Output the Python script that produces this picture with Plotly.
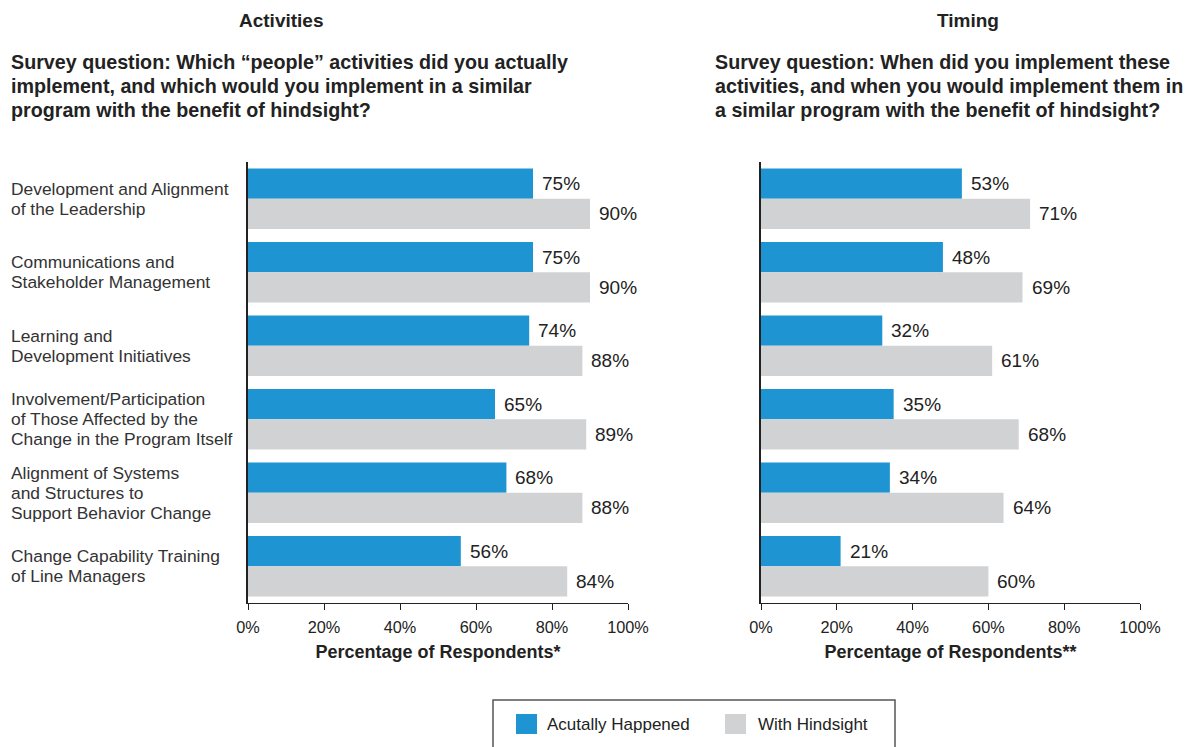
import plotly.graph_objects as go

categories = [
    "Development and Alignment<br>of the Leadership",
    "Communications and<br>Stakeholder Management",
    "Learning and<br>Development Initiatives",
    "Involvement/Participation<br>of Those Affected by the<br>Change in the Program Itself",
    "Alignment of Systems<br>and Structures to<br>Support Behavior Change",
    "Change Capability Training<br>of Line Managers",
]
activities_actual = [75, 75, 74, 65, 68, 56]
activities_hindsight = [90, 90, 88, 89, 88, 84]
timing_actual = [53, 48, 32, 35, 34, 21]
timing_hindsight = [71, 69, 61, 68, 64, 60]
series_names = ["Acutally Happened", "With Hindsight"]
tick_vals = [0, 20, 40, 60, 80, 100]
tick_text = ["0%", "20%", "40%", "60%", "80%", "100%"]
left_question = [
    "Survey question: Which “people” activities did you actually",
    "implement, and which would you implement in a similar",
    "program with the benefit of hindsight?",
]
right_question = [
    "Survey question: When did you implement these",
    "activities, and when you would implement them in",
    "a similar program with the benefit of hindsight?",
]

BLUE = "#1e94d3"
GRAY = "#d1d2d4"
TXT = "#222222"
FONT = "Liberation Sans, Arial, Helvetica, sans-serif"
W, H = 1203, 747

def px(x):
    return x / W

def py(y):
    return 1 - y / H

fig = go.Figure()

panels = [
    ("x", "y", activities_actual, activities_hindsight),
    ("x2", "y2", timing_actual, timing_hindsight),
]
for xa, ya, act, hind in panels:
    fig.add_trace(go.Bar(y=categories, x=act, orientation="h", name=series_names[0],
                         marker=dict(color=BLUE, line=dict(width=0)), xaxis=xa, yaxis=ya,
                         showlegend=False, hoverinfo="x+y"))
    fig.add_trace(go.Bar(y=categories, x=hind, orientation="h", name=series_names[1],
                         marker=dict(color=GRAY, line=dict(width=0)), xaxis=xa, yaxis=ya,
                         showlegend=False, hoverinfo="x+y"))

annotations = []
for xa, ya, act, hind in panels:
    for c, a, h in zip(categories, act, hind):
        annotations.append(dict(x=a, y=c, xref=xa, yref=ya, text=f"{a}%", showarrow=False,
                                xanchor="left", xshift=7, yshift=15,
                                font=dict(size=19, color=TXT, family=FONT)))
        annotations.append(dict(x=h, y=c, xref=xa, yref=ya, text=f"{h}%", showarrow=False,
                                xanchor="left", xshift=7, yshift=-15,
                                font=dict(size=19, color=TXT, family=FONT)))

# category labels (left aligned, one annotation per line for tight line spacing)
LINE = 20
for c in categories:
    lines = c.split("<br>")
    n = len(lines)
    for i, ln in enumerate(lines):
        annotations.append(dict(x=px(9), y=c, xref="paper", yref="y", text=ln, showarrow=False,
                                xanchor="left", yanchor="middle", align="left",
                                yshift=((n - 1) / 2 - i) * LINE,
                                font=dict(size=17.4, color="#333333", family=FONT)))

# titles
annotations += [
    dict(x=px(281), y=py(20), xref="paper", yref="paper", text="<b>Activities</b>", showarrow=False,
         xanchor="center", yanchor="middle", font=dict(size=19, color=TXT, family=FONT)),
    dict(x=px(968), y=py(20), xref="paper", yref="paper", text="<b>Timing</b>", showarrow=False,
         xanchor="center", yanchor="middle", font=dict(size=19, color=TXT, family=FONT)),
]
for x0, qlines in [(9, left_question), (713, right_question)]:
    for i, ln in enumerate(qlines):
        annotations.append(dict(x=px(x0), y=py(62 + 24 * i), xref="paper", yref="paper",
                                text=f"<b>{ln}</b>", showarrow=False, xanchor="left",
                                yanchor="middle", font=dict(size=19.7, color=TXT, family=FONT)))
annotations += [
    dict(x=px(545), y=py(724), xref="paper", yref="paper", text=series_names[0], showarrow=False,
         xanchor="left", yanchor="middle", font=dict(size=17, color=TXT, family=FONT)),
    dict(x=px(756), y=py(724), xref="paper", yref="paper", text=series_names[1], showarrow=False,
         xanchor="left", yanchor="middle", font=dict(size=17, color=TXT, family=FONT)),
]

shapes = [
    dict(type="rect", xref="paper", yref="paper", x0=px(493), x1=px(895), y0=py(748), y1=py(700),
         line=dict(color="#555555", width=1.5), fillcolor="rgba(0,0,0,0)"),
    dict(type="rect", xref="paper", yref="paper", x0=px(516), x1=px(537), y0=py(734), y1=py(714),
         line=dict(width=0), fillcolor=BLUE),
    dict(type="rect", xref="paper", yref="paper", x0=px(725), x1=px(746), y0=py(734), y1=py(714),
         line=dict(width=0), fillcolor=GRAY),
]

xaxis_common = dict(range=[0, 100], tickvals=tick_vals, ticktext=tick_text, showgrid=False,
                    zeroline=False, showline=True, linecolor=TXT, linewidth=1.2,
                    ticks="outside", ticklen=6, tickcolor=TXT, tickwidth=1.2,
                    ticklabelstandoff=3, automargin=False,
                    tickfont=dict(size=16.3, color=TXT, family=FONT), fixedrange=True)
yaxis_common = dict(autorange="reversed", showticklabels=False, showgrid=False, zeroline=False,
                    showline=True, linecolor=TXT, linewidth=2, ticks="", fixedrange=True,
                    automargin=False, domain=[py(603), py(162)])

title_font = dict(size=18, color=TXT, family=FONT)
fig.update_layout(
    width=W, height=H,
    margin=dict(l=0, r=0, t=0, b=0, pad=0),
    paper_bgcolor="white", plot_bgcolor="white",
    barmode="group", bargap=0.18, bargroupgap=0,
    font=dict(family=FONT, color=TXT),
    xaxis=dict(domain=[px(248), px(628)], anchor="y",
               title=dict(text="<b>Percentage of Respondents*</b>", standoff=10, font=title_font),
               **xaxis_common),
    xaxis2=dict(domain=[px(761), px(1140)], anchor="y2",
                title=dict(text="<b>Percentage of Respondents**</b>", standoff=10, font=title_font),
                **xaxis_common),
    yaxis=dict(anchor="x", **yaxis_common),
    yaxis2=dict(anchor="x2", **yaxis_common),
    annotations=annotations,
    shapes=shapes,
    showlegend=False,
)

fig.write_html("out.html", config={"displayModeBar": False},
               post_script="document.body.style.margin='0';document.body.style.overflow='hidden';")
